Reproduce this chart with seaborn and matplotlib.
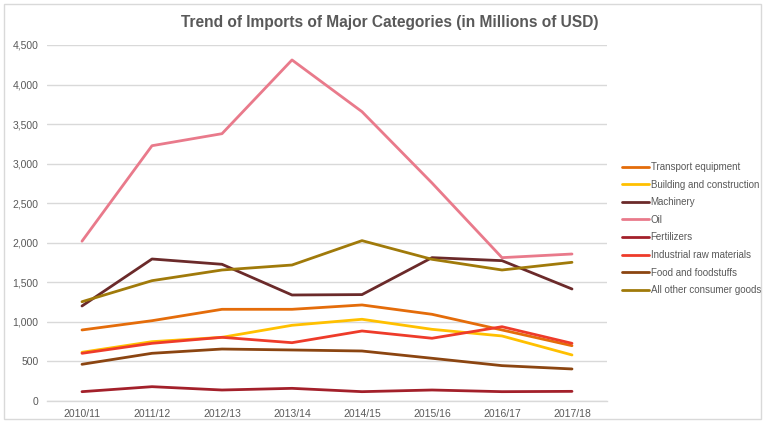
import matplotlib
matplotlib.use("Agg")
import matplotlib.pyplot as plt
import seaborn as sns
import pandas as pd
from matplotlib.patches import Rectangle

years = ["2010/11", "2011/12", "2012/13", "2013/14", "2014/15", "2015/16", "2016/17", "2017/18"]

transport_equipment = [898, 1015, 1159, 1159, 1214, 1096, 898, 699]
building_construction = [616, 750, 805, 957, 1033, 906, 822, 582]
machinery = [1201, 1795, 1728, 1340, 1345, 1812, 1774, 1416]
oil = [2020, 3227, 3379, 4311, 3657, 2756, 1812, 1858]
fertilizers = [118, 181, 139, 160, 118, 139, 118, 122]
industrial_raw = [603, 729, 805, 737, 885, 793, 939, 729]
food = [464, 603, 657, 645, 632, 540, 447, 405]
other_consumer = [1255, 1521, 1656, 1719, 2027, 1791, 1656, 1753]

categories = [
    "Transport equipment",
    "Building and construction",
    "Machinery",
    "Oil",
    "Fertilizers",
    "Industrial raw materials",
    "Food and foodstuffs",
    "All other consumer goods",
]
series = [transport_equipment, building_construction, machinery, oil,
          fertilizers, industrial_raw, food, other_consumer]
colors = ["#E46C0A", "#FFC000", "#6B2A2A", "#E97A8B",
          "#A3202A", "#EE3B2A", "#8B4511", "#A07A0A"]

rows = []
for cat, vals in zip(categories, series):
    for yr, v in zip(years, vals):
        rows.append({"Year": yr, "Value": v, "Category": cat})
df = pd.DataFrame(rows)

sns.set_style("white")
plt.rcParams["font.family"] = ["Liberation Sans", "DejaVu Sans"]

fig = plt.figure(figsize=(7.65, 4.23), dpi=100)
ax = fig.add_axes([47 / 765, 1 - 401 / 423, 560 / 765, 356 / 423])

sns.lineplot(data=df, x="Year", y="Value", hue="Category", hue_order=categories,
             palette=colors, linewidth=2.0, sort=False, ax=ax, legend=True)

ax.set_xlim(-0.5, 7.5)
ax.set_ylim(0, 4500)
ax.set_yticks(range(0, 4501, 500))
ax.set_yticklabels([f"{v:,}" for v in range(0, 4501, 500)])
ax.yaxis.grid(True, color="#D9D9D9", linewidth=1.0)
ax.set_axisbelow(True)
for s in ["top", "right", "left"]:
    ax.spines[s].set_visible(False)
ax.spines["bottom"].set_color("#D9D9D9")
ax.spines["bottom"].set_linewidth(1.0)
ax.tick_params(axis="both", length=0, labelsize=7.5, colors="#595959", pad=6)
ax.set_xlabel("")
ax.set_ylabel("")

leg = ax.legend(loc="upper left", bbox_to_anchor=(622 / 765, 1 - 162 / 423),
                bbox_transform=fig.transFigure, frameon=False, fontsize=7,
                handlelength=2.8, handletextpad=0.15, labelspacing=0.78,
                borderaxespad=0, borderpad=0)
for t in leg.get_texts():
    t.set_color("#595959")

fig.text(390 / 765, 1 - 22 / 423, "Trend of Imports of Major Categories (in Millions of USD)",
         ha="center", va="center", fontsize=11.2, fontweight="bold", color="#595959")

fig.patches.append(Rectangle((4 / 765, 4 / 423), 757 / 765, 415 / 423,
                             transform=fig.transFigure, fill=False,
                             edgecolor="#D9D9D9", linewidth=1.0))

fig.savefig("out.png", dpi=100)
